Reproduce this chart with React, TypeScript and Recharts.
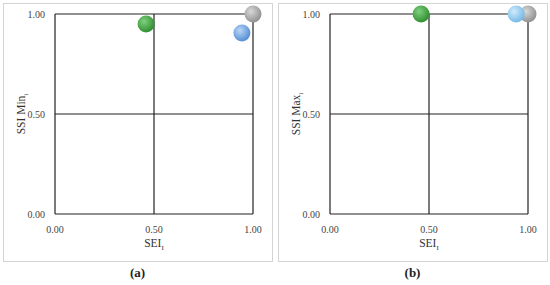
import React from 'react';
import { ScatterChart, Scatter, XAxis, YAxis, CartesianGrid } from 'recharts';

// scores per region (gray, blue, green) — gray drawn first so blue sits on top
const seiA = [1.0, 0.944, 0.46];
const ssiMin = [1.0, 0.905, 0.95];
const seiB = [1.0, 0.94, 0.46];
const ssiMax = [1.0, 1.0, 1.0];
const ticks = [0, 0.5, 1];

const GRADS: { [key: string]: [string, string] } = {
  gray: ['#d8d8d8', '#8c8c8c'],
  blue: ['#b9d6f6', '#4f88d2'],
  lightblue: ['#d0ebfb', '#6fb6e6'],
  green: ['#7fd07f', '#2b8a2b'],
};

const FONT = '"Liberation Serif", "DejaVu Serif", serif';

const Ball = (props: any) => {
  const { cx, cy, payload } = props;
  if (cx == null || cy == null) return null;
  return <circle cx={cx} cy={cy} r={8.5} fill={`url(#grad-${payload.color})`} />;
};

const Defs = () => (
  <defs>
    {Object.keys(GRADS).map(k => (
      <radialGradient key={k} id={`grad-${k}`} cx="38%" cy="35%" r="70%">
        <stop offset="0%" stopColor={GRADS[k][0]} />
        <stop offset="100%" stopColor={GRADS[k][1]} />
      </radialGradient>
    ))}
  </defs>
);

const XLabel = (props: any) => {
  const { viewBox } = props;
  const x = viewBox.x + viewBox.width / 2;
  const y = viewBox.y + 33;
  return (
    <text x={x} y={y} textAnchor="middle" fontFamily={FONT} fontSize={11.5} fill="#333">
      SEI
      <tspan fontSize={7} dy={3}>I</tspan>
    </text>
  );
};

const YLabel = (name: string) => (props: any) => {
  const { viewBox } = props;
  const x = viewBox.x + 22;
  const y = viewBox.y + viewBox.height / 2;
  return (
    <text x={x} y={y} textAnchor="middle" fontFamily={FONT} fontSize={11.5} fill="#333" transform={`rotate(-90, ${x}, ${y})`}>
      {name}
      <tspan fontSize={7} dy={3}>i</tspan>
    </text>
  );
};

const fmt = (v: number) => v.toFixed(2);

const Panel: React.FC<{ xs: number[]; ys: number[]; yName: string; left: number; colors: string[]; tag: string }> = ({ xs, ys, yName, left, colors, tag }) => {
  const data = xs.map((x, i) => ({ x, y: ys[i], color: colors[i] }));
  return (
    <div style={{ position: 'absolute', left, top: 0, width: 275 }}>
      <div style={{ position: 'absolute', left: 3, top: 3, width: 268, height: 257, border: '1px solid #d4d4d4' }} />
      <div style={{ position: 'absolute', left: 3, top: 3 }}>
        <ScatterChart width={269} height={258} margin={{ top: 11, right: 19, left: 0, bottom: 0 }}>
          <Defs />
          <CartesianGrid stroke="#222" strokeWidth={1.2} />
          <XAxis
            type="number"
            dataKey="x"
            domain={[0, 1]}
            ticks={ticks}
            tickFormatter={fmt}
            axisLine={false}
            tickLine={false}
            height={47}
            tickMargin={6}
            tick={{ fontFamily: FONT, fontSize: 10, fill: '#444' }}
            label={<XLabel />}
          />
          <YAxis
            type="number"
            dataKey="y"
            domain={[0, 1]}
            ticks={ticks}
            tickFormatter={fmt}
            axisLine={false}
            tickLine={false}
            width={52}
            tickMargin={4}
            tick={{ fontFamily: FONT, fontSize: 10, fill: '#444' }}
            label={YLabel(yName)}
          />
          <Scatter data={data} shape={<Ball />} isAnimationActive={false} />
        </ScatterChart>
      </div>
      <div style={{ position: 'absolute', left: 0, top: 265, width: 275, textAlign: 'center', fontFamily: FONT, fontWeight: 'bold', fontSize: 13, color: '#222' }}>
        {tag}
      </div>
    </div>
  );
};

export default function App() {
  return (
    <div style={{ position: 'absolute', left: 0, top: 0, width: 550, height: 285, background: '#fff' }}>
      <Panel xs={seiA} ys={ssiMin} yName="SSI Min" left={0} colors={['gray', 'blue', 'green']} tag="(a)" />
      <Panel xs={seiB} ys={ssiMax} yName="SSI Max" left={275} colors={['gray', 'lightblue', 'green']} tag="(b)" />
    </div>
  );
}
